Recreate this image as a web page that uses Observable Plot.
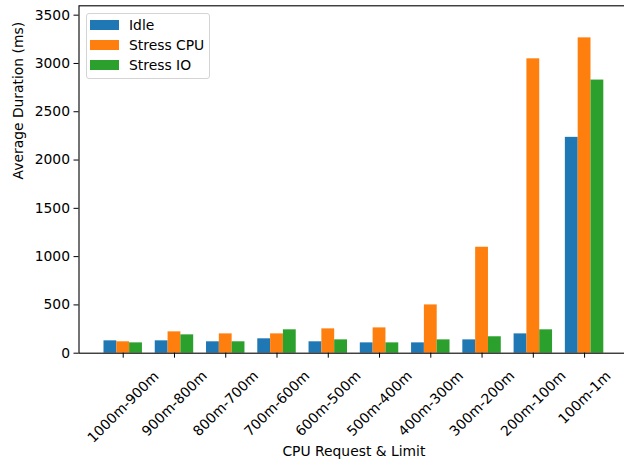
<!DOCTYPE html>
<html>
<head>
<meta charset="utf-8">
<script src="https://cdn.jsdelivr.net/npm/d3@7"></script>
<script src="https://cdn.jsdelivr.net/npm/@observablehq/plot@0.6"></script>
<style>
  html, body { margin: 0; padding: 0; background: white; overflow: hidden; }
  #wrap { position: relative; width: 624px; height: 463px; overflow: hidden; }
  #legend {
    position: absolute; left: 86px; top: 12.5px; width: 124px; height: 66px;
    box-sizing: border-box; border: 1px solid #d4d4d4; border-radius: 3px;
    background: rgba(255,255,255,0.8);
    font-family: "DejaVu Sans", sans-serif; font-size: 13.89px; color: #000;
  }
  .row { position: absolute; left: 0; height: 16px; display: flex; align-items: center; }
  .sw { position: absolute; left: 3px; width: 29px; height: 9.7px; }
  .lb { position: absolute; left: 42px; white-space: nowrap; line-height: 16px; }
</style>
</head>
<body>
<div id="wrap"></div>
<script>
const categories = ["1000m-900m","900m-800m","800m-700m","700m-600m","600m-500m","500m-400m","400m-300m","300m-200m","200m-100m","100m-1m"];
const seriesNames = ["Idle","Stress CPU","Stress IO"];
const idle      = [128, 128, 118, 149, 118, 107, 107, 138, 200, 2235];
const stressCpu = [118, 221, 200, 200, 252, 262, 500, 1097, 3048, 3265];
const stressIo  = [107, 190, 118, 242, 138, 107, 138, 170, 242, 2828];
const seriesColors = ["#1f77b4", "#ff7f0e", "#2ca02c"];
const yTicks = [0, 500, 1000, 1500, 2000, 2500, 3000, 3500];

const seriesValues = [idle, stressCpu, stressIo];
const barWidth = 0.25;
const rows = [];
seriesValues.forEach((vals, j) => {
  vals.forEach((v, i) => {
    const c = i + (j - 1) * barWidth;
    rows.push({series: seriesNames[j], x1: c - barWidth / 2, x2: c + barWidth / 2, value: v});
  });
});

const idx = d => categories.indexOf(d);
const labelMark = (subset, dy) => Plot.text(subset, {
  x: idx, text: d => d, frameAnchor: "bottom", rotate: -45,
  textAnchor: "middle", lineAnchor: "middle", dy, fill: "black"
});

const chart = Plot.plot({
  width: 624,
  height: 463,
  marginLeft: 78.5,
  marginRight: -4.3,
  marginTop: 5.3,
  marginBottom: 110.3,
  style: {fontFamily: "DejaVu Sans, sans-serif", fontSize: "13.89px", color: "black", background: "white", overflow: "visible"},
  x: {domain: [-0.8625, 9.8625]},
  y: {domain: [0, 3597]},
  color: {domain: seriesNames, range: seriesColors},
  marks: [
    Plot.rectY(rows, {x1: "x1", x2: "x2", y: "value", fill: "series"}),
    Plot.frame({stroke: "black", strokeWidth: 1.1}),
    Plot.axisY({ticks: yTicks, tickSize: 5, tickPadding: 4, label: null, tickFormat: d => String(d)}),
    Plot.axisX({ticks: d3.range(categories.length), tickSize: 5, tickFormat: () => "", label: null}),
    labelMark(categories.filter(d => d.length >= 10), 54),
    labelMark(categories.filter(d => d.length >= 8 && d.length < 10), 50.5),
    labelMark(categories.filter(d => d.length < 8), 44.5),
    Plot.text(["CPU Request & Limit"], {frameAnchor: "bottom", text: d => d, dy: 98.5, lineAnchor: "middle", fill: "black"}),
    Plot.text(["Average Duration (ms)"], {frameAnchor: "left", text: d => d, dx: -60.5, rotate: -90, lineAnchor: "middle", fill: "black"})
  ]
});

const wrap = document.getElementById("wrap");
wrap.appendChild(chart);

const legend = document.createElement("div");
legend.id = "legend";
const rowTops = [3.3, 23.3, 43.8];
seriesNames.forEach((name, j) => {
  const r = document.createElement("div");
  r.className = "row";
  r.style.top = rowTops[j] + "px";
  r.style.width = "100%";
  const sw = document.createElement("div");
  sw.className = "sw";
  sw.style.background = seriesColors[j];
  sw.style.top = "3.2px";
  const lb = document.createElement("div");
  lb.className = "lb";
  lb.textContent = name;
  r.appendChild(sw);
  r.appendChild(lb);
  legend.appendChild(r);
});
wrap.appendChild(legend);
</script>
</body>
</html>
